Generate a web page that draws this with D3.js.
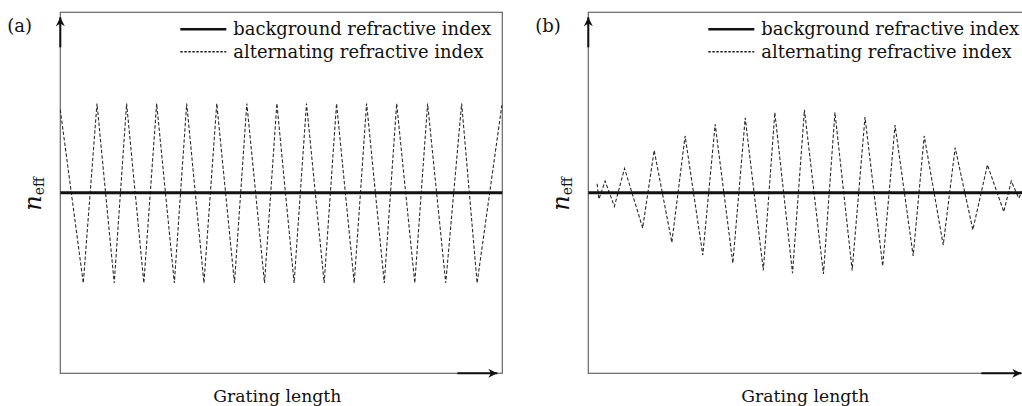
<!DOCTYPE html>
<html>
<head>
<meta charset="utf-8">
<script src="https://cdn.jsdelivr.net/npm/d3@7"></script>
<style>
  html, body { margin: 0; padding: 0; background: #fff; }
  svg { display: block; }
</style>
</head>
<body>
<svg id="chart" width="1022" height="406"></svg>
<script>
// ---- data (x = position along grating, 0..100; y = index change) ----
const panelLabels = ["(a)", "(b)"];
const legendLabels = ["background refractive index", "alternating refractive index"];
const xAxisLabel = "Grating length";
const backgroundLevel = 0;

// (a) uniform grating
const uniformX = [0, 5.2, 8.3, 12.2, 15.0, 18.9, 21.8, 25.8, 28.6, 32.5, 35.4, 39.4, 42.2, 46.2, 49.0,
                  52.9, 55.7, 59.7, 62.5, 66.5, 69.3, 73.3, 76.1, 80.2, 83.1, 87.2, 90.8, 94.3, 99.9];
const uniformY = [0.92, -1.0, 0.99, -1.0, 0.99, -1.0, 0.99, -1.0, 0.99, -1.0, 0.99, -1.0, 0.99, -1.0, 0.99,
                  -1.0, 0.99, -1.0, 0.99, -1.0, 0.99, -1.0, 0.99, -1.0, 0.99, -1.0, 0.99, -1.0, 0.97];

// (b) apodized grating
const apodX = [2.0, 2.4, 3.8, 5.9, 8.2, 12.3, 14.9, 18.9, 21.9, 25.9, 28.7, 32.7, 35.5, 39.6, 42.2, 46.2,
               48.9, 53.2, 55.8, 59.7, 62.6, 66.6, 69.4, 73.5, 76.0, 80.3, 83.0, 87.0, 90.3, 94.0, 95.7,
               97.4, 98.6];
const apodY = [0.10, -0.07, 0.13, -0.15, 0.27, -0.39, 0.47, -0.55, 0.63, -0.69, 0.76, -0.78, 0.83, -0.86,
               0.89, -0.89, 0.92, -0.90, 0.89, -0.86, 0.84, -0.81, 0.75, -0.70, 0.63, -0.58, 0.50, -0.41,
               0.31, -0.21, 0.13, -0.06, 0.06];

const panels = [
  {label: panelLabels[0], left: 60.3, frameWidth: 442, xs: uniformX, ys: uniformY},
  {label: panelLabels[1], left: 588.3, frameWidth: 438, xs: apodX, ys: apodY}
];

const frameTop = 12.3, width = 442, height = 361;
const serif = "'DejaVu Serif', 'Liberation Serif', serif";
const svg = d3.select("#chart");

// arrow head marker
const defs = svg.append("defs");
defs.append("marker")
  .attr("id", "arrow")
  .attr("viewBox", "0 0 10 10")
  .attr("refX", 10).attr("refY", 5)
  .attr("markerWidth", 11).attr("markerHeight", 9)
  .attr("markerUnits", "userSpaceOnUse")
  .attr("orient", "auto")
  .append("path")
  .attr("d", "M0,0 L10,5 L0,10 L3,5 Z")
  .attr("fill", "#111");

// fit a text element to a measured width by changing font size
function fitText(sel, targetWidth) {
  const node = sel.node();
  const w = node.getComputedTextLength();
  const fs = parseFloat(sel.attr("font-size"));
  sel.attr("font-size", (fs * targetWidth / w).toFixed(2));
}

panels.forEach(function(p) {
  const x = d3.scaleLinear().domain([0, 100]).range([0, width]);
  const y = d3.scaleLinear().domain([-2, 2]).range([height, 0]);
  const fw = p.frameWidth;

  const g = svg.append("g")
    .attr("transform", "translate(" + p.left + "," + frameTop + ")");

  // frame
  g.append("rect")
    .attr("x", 0).attr("y", 0)
    .attr("width", fw).attr("height", height)
    .attr("fill", "none")
    .attr("stroke", "#666")
    .attr("stroke-width", 1.2);

  // axis arrows
  g.append("line")
    .attr("x1", 0).attr("y1", 35)
    .attr("x2", 0).attr("y2", 5)
    .attr("stroke", "#111").attr("stroke-width", 2)
    .attr("marker-end", "url(#arrow)");
  g.append("line")
    .attr("x1", fw - 45).attr("y1", height)
    .attr("x2", fw - 5).attr("y2", height)
    .attr("stroke", "#111").attr("stroke-width", 2)
    .attr("marker-end", "url(#arrow)");

  // alternating index (dashed)
  const pts = p.xs.map(function(v, i) { return [v, p.ys[i]]; });
  g.append("path")
    .datum(pts)
    .attr("fill", "none")
    .attr("stroke", "#2a2a2a")
    .attr("stroke-width", 1.1)
    .attr("stroke-dasharray", "3.5,2")
    .attr("d", d3.line()
      .x(function(d) { return x(d[0]); })
      .y(function(d) { return y(d[1]); }));

  // background index (solid thick)
  g.append("line")
    .attr("x1", x(0)).attr("x2", x(100))
    .attr("y1", y(backgroundLevel)).attr("y2", y(backgroundLevel))
    .attr("stroke", "#111")
    .attr("stroke-width", 3);

  // legend
  const leg = g.append("g").attr("transform", "translate(120,0)");
  leg.append("line")
    .attr("x1", 0).attr("x2", 46)
    .attr("y1", 17).attr("y2", 17)
    .attr("stroke", "#111").attr("stroke-width", 2.5);
  leg.append("line")
    .attr("x1", 0).attr("x2", 46)
    .attr("y1", 39.4).attr("y2", 39.4)
    .attr("stroke", "#222").attr("stroke-width", 1.4)
    .attr("stroke-dasharray", "2.5,1.5");
  const t1 = leg.append("text")
    .attr("x", 53).attr("y", 22.5)
    .attr("font-family", serif).attr("font-size", 18)
    .attr("fill", "#111")
    .text(legendLabels[0]);
  fitText(t1, 258);
  leg.append("text")
    .attr("x", 53).attr("y", 45.5)
    .attr("font-family", serif).attr("font-size", t1.attr("font-size"))
    .attr("fill", "#111")
    .text(legendLabels[1]);

  // panel label
  svg.append("text")
    .attr("x", p.left - 53).attr("y", 20 + frameTop)
    .attr("font-family", serif).attr("font-size", 18)
    .attr("fill", "#111")
    .text(p.label);

  // y label n_eff
  const yl = g.append("text")
    .attr("transform", "translate(-19.5," + (y(0) + 1) + ") rotate(-90)")
    .attr("text-anchor", "middle")
    .attr("font-family", serif)
    .attr("fill", "#111");
  yl.append("tspan").attr("font-size", 24).attr("font-style", "italic").text("n");
  yl.append("tspan").attr("font-size", 14).attr("dy", 3).text("eff");

  // x label
  const xl = g.append("text")
    .attr("x", x(50) - 4).attr("y", height + 28.5)
    .attr("text-anchor", "middle")
    .attr("font-family", serif).attr("font-size", 18)
    .attr("fill", "#111")
    .text(xAxisLabel);
  fitText(xl, 128);
});
</script>
</body>
</html>
